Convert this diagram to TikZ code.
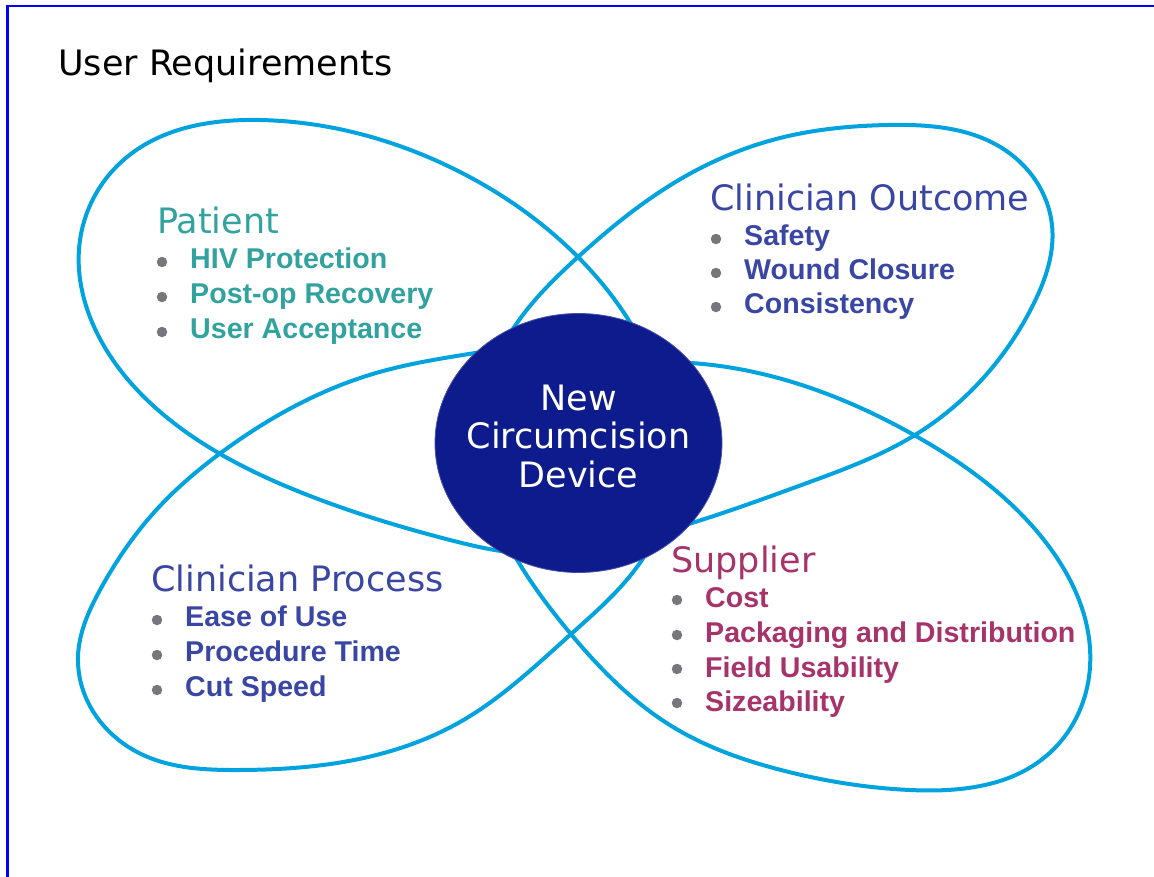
\documentclass[tikz,border=0pt]{standalone}
\usepackage{fontspec}
\setmainfont{Liberation Sans}
\newfontfamily\hfont{DejaVu Sans}
\usetikzlibrary{shapes.geometric,hobby}
\definecolor{ringc}{RGB}{0,163,221}
\definecolor{navy}{RGB}{13,27,140}
\definecolor{navyedge}{RGB}{70,80,170}
\definecolor{teal}{RGB}{50,162,158}
\definecolor{clin}{RGB}{58,70,163}
\definecolor{supp}{RGB}{166,51,106}
\definecolor{bulletc}{RGB}{118,118,124}
\definecolor{framec}{RGB}{0,0,255}
\tikzset{
  ring/.style={draw=ringc, line width=4pt, use Hobby shortcut, closed=true},
  head/.style={anchor=base west, inner sep=0pt, font=\hfont\fontsize{35}{35}\selectfont},
  item/.style={anchor=base west, inner sep=0pt, font=\bfseries\fontsize{28.6}{30}\selectfont},
  dot/.style={circle, fill=bulletc, minimum size=10.5pt, inner sep=0pt},
  ctext/.style={anchor=base, inner sep=0pt, text=white, font=\hfont\fontsize{35}{35}\selectfont}
}
\begin{document}
\begin{tikzpicture}[x=1pt,y=-1pt]
\useasboundingbox (0,0) rectangle (1154,876);
% frame
\draw[framec, line width=2.2pt] (7.5,880) -- (7.5,6) -- (1160,6);
% title
\node[head, text=black] (title) at (58,75) {User Requirements};
% Patient ring
\draw[ring] (80,240) .. (127,157) .. (260,120) .. (450,167) .. (578,257)
 .. (650,360) .. (665,460) .. (590,545) .. (450,540) .. (300,492)
 .. (170,420) .. (97,333);
% Clinician Outcome ring
\draw[ring] (888,125) .. (1005,150) .. (1052,225) .. (1033,305) .. (915,435)
 .. (807,483) .. (692,523) .. (570,535) .. (488,455) .. (517,323)
 .. (578,257) .. (684,177) .. (780,138);
% Clinician Process ring
\draw[ring] (78,657) .. (139,753) .. (238,770) .. (337,763) .. (460,722)
 .. (570,635) .. (637,567) .. (672,470) .. (620,365) .. (475,353)
 .. (376,373) .. (222,452) .. (159,507) .. (100,590);
% Supplier ring
\draw[ring] (691,363) .. (914,435) .. (1044,540) .. (1090,667) .. (1045,757)
 .. (910,790) .. (781,770) .. (673,727) .. (570,633) .. (519,563)
 .. (492,470) .. (575,378);
% centre device
\node[ellipse, fill=navy, draw=navyedge, line width=0.8pt, minimum width=287pt, minimum height=259pt, inner sep=0pt] (dev) at (578.5,443) {};
\node[ctext] (dev1) at (578.5,410) {New};
\node[ctext] (dev2) at (578.5,448) {Circumcision};
\node[ctext] (dev3) at (578.5,487) {Device};
% Patient
\node[head, text=teal] (pat) at (157,233) {Patient};
\node[dot] (pb1) at (162,262) {};
\node[dot] (pb2) at (162,297) {};
\node[dot] (pb3) at (162,332) {};
\node[item, text=teal] (pi1) at (190,268) {HIV Protection};
\node[item, text=teal] (pi2) at (190,303) {Post-op Recovery};
\node[item, text=teal] (pi3) at (190,338) {User Acceptance};
% Clinician Outcome
\node[head, text=clin] (co) at (710,210) {Clinician Outcome};
\node[dot] (cb1) at (716,239) {};
\node[dot] (cb2) at (716,273) {};
\node[dot] (cb3) at (716,307) {};
\node[item, text=clin] (ci1) at (744,245) {Safety};
\node[item, text=clin] (ci2) at (744,279) {Wound Closure};
\node[item, text=clin] (ci3) at (744,313) {Consistency};
% Clinician Process
\node[head, text=clin] (cp) at (151,591) {Clinician Process};
\node[dot] (qb1) at (157,620) {};
\node[dot] (qb2) at (157,655) {};
\node[dot] (qb3) at (157,690) {};
\node[item, text=clin] (qi1) at (185,626) {Ease of Use};
\node[item, text=clin] (qi2) at (185,661) {Procedure Time};
\node[item, text=clin] (qi3) at (185,696) {Cut Speed};
% Supplier
\node[head, text=supp] (sp) at (671,572) {Supplier};
\node[dot] (sb1) at (677,600) {};
\node[dot] (sb2) at (677,635) {};
\node[dot] (sb3) at (677,669) {};
\node[dot] (sb4) at (677,703) {};
\node[item, text=supp] (si1) at (705,607) {Cost};
\node[item, text=supp] (si2) at (705,642) {Packaging and Distribution};
\node[item, text=supp] (si3) at (705,677) {Field Usability};
\node[item, text=supp] (si4) at (705,711) {Sizeability};
\end{tikzpicture}
\end{document}
